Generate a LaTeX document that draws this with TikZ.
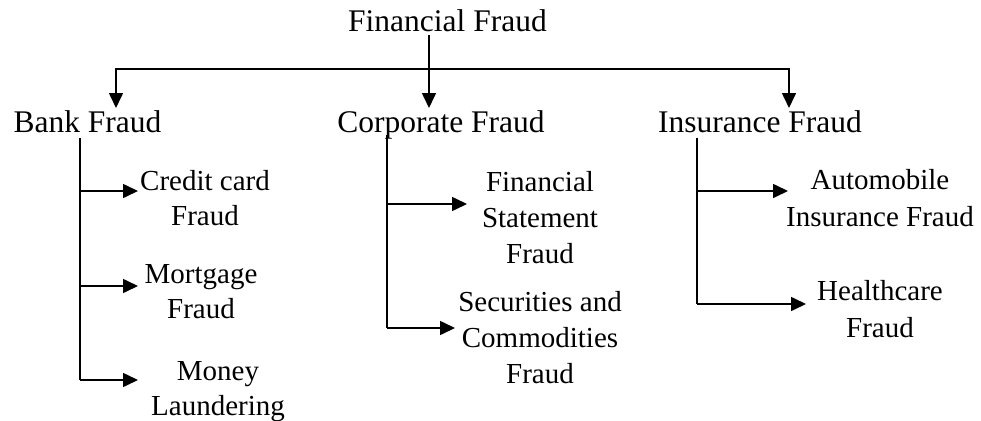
\documentclass[tikz,border=0pt]{standalone}
\usepackage{fontspec}
\setmainfont{Liberation Serif}
\usetikzlibrary{arrows.meta}
\begin{document}
\begin{tikzpicture}[x=1pt,y=-1pt,
  hd/.style={inner sep=0pt, anchor=base, font=\fontsize{31.5}{36}\selectfont},
  sub/.style={inner sep=0pt, anchor=base, align=center, font=\fontsize{29}{36}\selectfont},
  ln/.style={line width=1.6pt},
  arr/.style={line width=1.6pt, -{Triangle[length=15pt,width=14pt]}}]
\useasboundingbox (0,0) rectangle (981,420);
% headings
\node[hd] (ff) at (447.5,32) {Financial Fraud};
\node[hd] (bf) at (87.5,132) {Bank Fraud};
\node[hd] (cf) at (441,132) {Corporate Fraud};
\node[hd] (if) at (760,132) {Insurance Fraud};
% sub items (anchor base = last line's baseline)
\node[sub] (cc) at (205,225) {Credit card\\[-1pt]Fraud};
\node[sub] (mf) at (201,318) {Mortgage\\[-1pt]Fraud};
\node[sub] (ml) at (218,415) {Money\\[-1pt]Laundering};
\node[sub] (fs) at (540,263) {Financial\\Statement\\Fraud};
\node[sub] (sc) at (540,383) {Securities and\\Commodities\\Fraud};
\node[sub] (ai) at (880,226) {Automobile\\[1pt]Insurance Fraud};
\node[sub] (hc) at (880,337) {Healthcare\\[1pt]Fraud};
% junction coordinates
\coordinate (ftop) at (429,35);
\coordinate (j) at (429,69);
\coordinate (jl) at (116,69);
\coordinate (jr) at (789,69);
\coordinate (tl) at (116,108);
\coordinate (tc) at (429,108);
\coordinate (tr) at (789,108);
% top tree
\draw[arr] (ftop) -- (tc);
\draw[arr] (jr) -- (jl) -- (tl);
\draw[arr] (jl) -- (jr) -- (tr);
% bank fraud
\coordinate (b0) at (80,138);
\coordinate (b1) at (80,191);
\coordinate (b2) at (80,286);
\coordinate (b3) at (80,380);
\draw[ln] (b0) -- (b3);
\draw[arr] (b1) -- (138,191) coordinate (b1t);
\draw[arr] (b2) -- (138,286) coordinate (b2t);
\draw[arr] (b3) -- (138,380) coordinate (b3t);
% corporate fraud
\coordinate (c0) at (387,135);
\coordinate (c1) at (387,204);
\coordinate (c2) at (387,328);
\draw[ln] (c0) -- (c2);
\draw[arr] (c1) -- (467,204) coordinate (c1t);
\draw[arr] (c2) -- (455,328) coordinate (c2t);
% insurance fraud
\coordinate (i0) at (697,138);
\coordinate (i1) at (697,191);
\coordinate (i2) at (697,304);
\draw[ln] (i0) -- (i2);
\draw[arr] (i1) -- (788,191) coordinate (i1t);
\draw[arr] (i2) -- (806,304) coordinate (i2t);
\end{tikzpicture}
\end{document}
